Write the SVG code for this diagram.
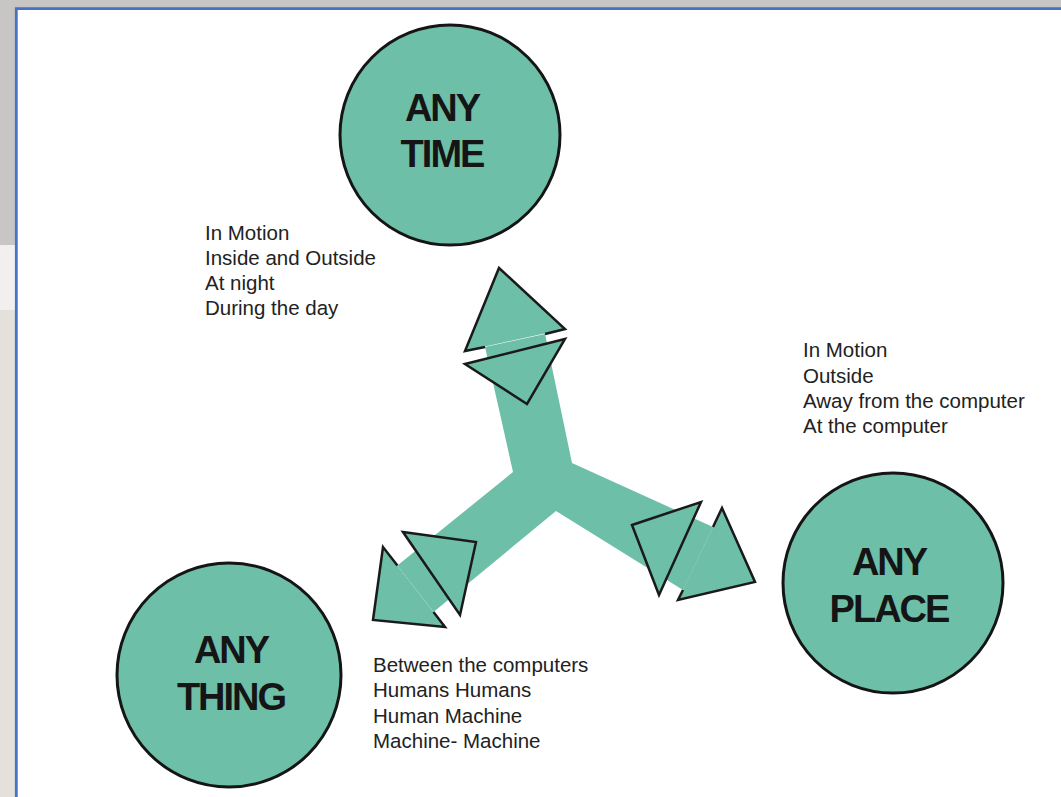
<svg xmlns="http://www.w3.org/2000/svg" width="1061" height="797" viewBox="0 0 1061 797">
  <style>
    .node circle { fill: #6ebfa8; stroke: #151515; stroke-width: 3; }
    .title { font-family: "Liberation Sans", Arial, sans-serif; font-weight: bold; font-size: 38px; letter-spacing: -2px; fill: #151515; text-anchor: middle; }
    .note { font-family: "Liberation Sans", Arial, sans-serif; font-size: 20.5px; fill: #222; }
    .arm { fill: #6ebfa8; stroke: none; }
    .tri { fill: #6ebfa8; stroke: #1a1a1a; stroke-width: 2.5; stroke-linejoin: miter; }
    .headfill { fill: #6ebfa8; stroke: none; }
    .headline { fill: none; stroke: #1a1a1a; stroke-width: 2.5; stroke-linejoin: miter; }
  </style>

  <!-- frame / background -->
  <rect x="0" y="0" width="1061" height="797" fill="#ffffff"/>
  <rect x="0" y="0" width="1061" height="8" fill="#c8c6c5"/>
  <rect x="0" y="0" width="16" height="245" fill="#c8c6c5"/>
  <rect x="0" y="245" width="16" height="65" fill="#f1f0ef"/>
  <rect x="0" y="310" width="16" height="487" fill="#e4e1dd"/>
  <path d="M16.3 797 V8.7 H1061" fill="none" stroke="#4472c4" stroke-width="2.8"/>

  <!-- connectors -->
  <g id="connectors">
    <polygon class="arm" points="485,347 545,334 572,463 713,527 683,590 556,511 433.5,612 397.4,565.6 513,472"/>

    <!-- up arm end -->
    <polygon class="headfill" points="465,351 499,268 565,329"/>
    <polyline class="headline" points="485,347 465,351 499,268 565,329 545,334"/>
    <polygon class="tri" points="465,364 565,339 527,404"/>

    <!-- lower-left arm end -->
    <polygon class="headfill" points="383,547 373,620 445,627"/>
    <polyline class="headline" points="397.4,565.6 383,547 373,620 445,627 433.5,612"/>
    <polygon class="tri" points="403,532 476,542 460,615"/>

    <!-- right arm end -->
    <polygon class="headfill" points="722,508 755,582 678,600"/>
    <polyline class="headline" points="713,527 722,508 755,582 678,600 683,590"/>
    <polygon class="tri" points="632,525 701,502 659,595"/>
  </g>

  <!-- nodes -->
  <g id="node-any-time" class="node">
    <circle cx="450" cy="135" r="110"/>
    <text class="title" x="442" y="121">ANY</text>
    <text class="title" x="442" y="167">TIME</text>
  </g>
  <g id="node-any-thing" class="node">
    <circle cx="229" cy="675" r="112"/>
    <text class="title" x="231" y="663">ANY</text>
    <text class="title" x="231" y="710">THING</text>
  </g>
  <g id="node-any-place" class="node">
    <circle cx="893" cy="583" r="110"/>
    <text class="title" x="889" y="575">ANY</text>
    <text class="title" x="889" y="622">PLACE</text>
  </g>

  <!-- notes -->
  <g id="note-time">
    <text class="note" x="205" y="240">In Motion</text>
    <text class="note" x="205" y="265">Inside and Outside</text>
    <text class="note" x="205" y="290">At night</text>
    <text class="note" x="205" y="315">During the day</text>
  </g>
  <g id="note-place">
    <text class="note" x="803" y="357">In Motion</text>
    <text class="note" x="803" y="383">Outside</text>
    <text class="note" x="803" y="408">Away from the computer</text>
    <text class="note" x="803" y="433">At the computer</text>
  </g>
  <g id="note-thing">
    <text class="note" x="373" y="672">Between the computers</text>
    <text class="note" x="373" y="697">Humans Humans</text>
    <text class="note" x="373" y="723">Human Machine</text>
    <text class="note" x="373" y="748">Machine- Machine</text>
  </g>
</svg>
